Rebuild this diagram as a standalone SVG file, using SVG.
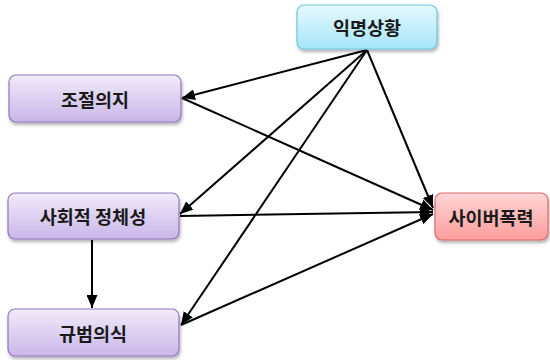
<svg xmlns="http://www.w3.org/2000/svg" width="550" height="360" viewBox="0 0 550 360">
  <defs>
    <linearGradient id="gBlue" x1="0" y1="0" x2="0" y2="1">
      <stop offset="0" stop-color="#e6f9ff"/>
      <stop offset="1" stop-color="#a6e6fb"/>
    </linearGradient>
    <linearGradient id="gPurple" x1="0" y1="0" x2="0" y2="1">
      <stop offset="0" stop-color="#f1ebfa"/>
      <stop offset="1" stop-color="#c9b6e8"/>
    </linearGradient>
    <linearGradient id="gRed" x1="0" y1="0" x2="0" y2="1">
      <stop offset="0" stop-color="#ffd6d6"/>
      <stop offset="1" stop-color="#ff9c9c"/>
    </linearGradient>
    <filter id="shadow" x="-10%" y="-10%" width="125%" height="140%">
      <feDropShadow dx="1" dy="2.5" stdDeviation="1.5" flood-color="#000" flood-opacity="0.3"/>
    </filter>
    <marker id="arrow" viewBox="0 0 13 11" refX="13" refY="5.5" markerWidth="13" markerHeight="11" markerUnits="userSpaceOnUse" orient="auto">
      <path d="M0,0 L13,5.5 L0,11 Z" fill="#000"/>
    </marker>
  </defs>
  <style>
    .node rect { stroke-width: 1.2; filter: url(#shadow); }
    .blue rect { fill: url(#gBlue); stroke: #6cc6e0; }
    .purple rect { fill: url(#gPurple); stroke: #9176c0; }
    .red rect { fill: url(#gRed); stroke: #d86a6a; }
    .node text { font-family: "Noto Sans CJK KR", "Noto Sans", sans-serif; font-weight: bold; font-size: 18.5px; fill: #1a1a1a; text-anchor: middle; dominant-baseline: central; }
    .edge { stroke: #000; stroke-width: 2; fill: none; marker-end: url(#arrow); }
  </style>

  <!-- connectors -->
  <g id="connectors">
    <line class="edge" x1="367" y1="50" x2="182" y2="98"/>
    <line class="edge" x1="367" y1="50" x2="180" y2="214"/>
    <line class="edge" x1="367" y1="50" x2="181" y2="325"/>
    <line class="edge" x1="367" y1="50" x2="433" y2="208"/>
    <line class="edge" x1="182" y1="98" x2="433" y2="210"/>
    <line class="edge" x1="180" y1="216" x2="433" y2="212"/>
    <line class="edge" x1="181" y1="325" x2="433" y2="214"/>
    <line class="edge" x1="92" y1="240" x2="92" y2="308"/>
  </g>

  <!-- nodes -->
  <g id="anonymity" class="node blue">
    <rect x="297" y="5" width="140" height="44" rx="7"/>
    <text x="367" y="27">익명상황</text>
  </g>
  <g id="self-control" class="node purple">
    <rect x="9" y="75" width="172" height="47" rx="7"/>
    <text x="95" y="98.5">조절의지</text>
  </g>
  <g id="social-identity" class="node purple">
    <rect x="8" y="193" width="171" height="46" rx="7"/>
    <text x="93" y="216">사회적 정체성</text>
  </g>
  <g id="norm-awareness" class="node purple">
    <rect x="8" y="309" width="171" height="47" rx="7"/>
    <text x="93" y="332.5">규범의식</text>
  </g>
  <g id="cyber-violence" class="node red">
    <rect x="435" y="193" width="113" height="47" rx="7"/>
    <text x="491" y="216.5">사이버폭력</text>
  </g>
</svg>
